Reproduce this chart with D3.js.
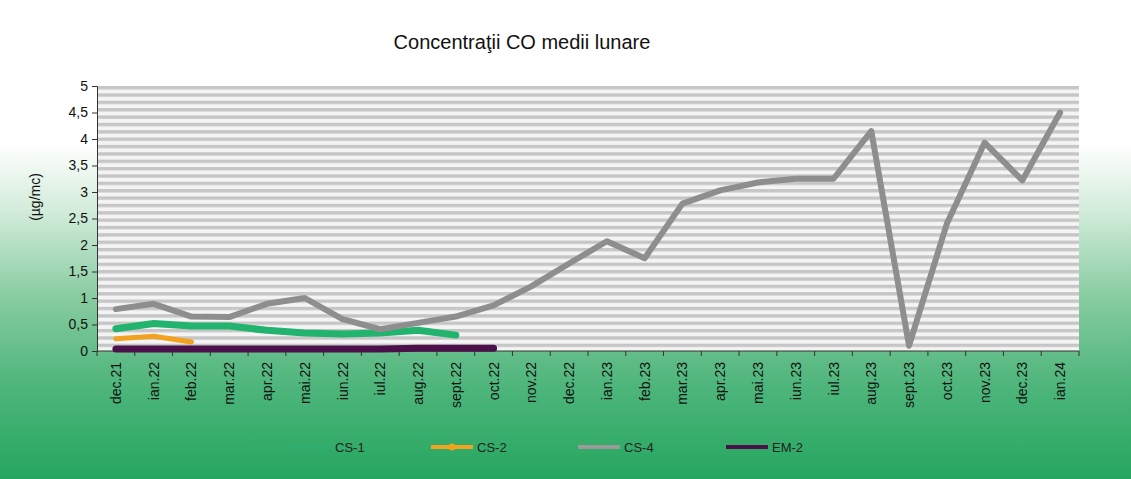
<!DOCTYPE html>
<html>
<head>
<meta charset="utf-8">
<script src="https://cdn.jsdelivr.net/npm/d3@7"></script>
<style>
  html, body { margin: 0; padding: 0; background: #fff; }
  svg { display: block; font-family: Arial, "Liberation Sans", sans-serif; }
</style>
</head>
<body>
<div id="chart"></div>
<script>
const months = ['dec.21', 'ian.22', 'feb.22', 'mar.22', 'apr.22', 'mai.22', 'iun.22', 'iul.22', 'aug.22',
  'sept.22', 'oct.22', 'nov.22', 'dec.22', 'ian.23', 'feb.23', 'mar.23', 'apr.23', 'mai.23', 'iun.23',
  'iul.23', 'aug.23', 'sept.23', 'oct.23', 'nov.23', 'dec.23', 'ian.24'];
const yTicks = [0, 0.5, 1, 1.5, 2, 2.5, 3, 3.5, 4, 4.5, 5];

// series start at dec.21; shorter arrays = station stopped reporting
const cs1 = [0.42, 0.52, 0.47, 0.47, 0.39, 0.34, 0.32, 0.34, 0.39, 0.30];
const cs2 = [0.23, 0.28, 0.17];
const cs4 = [0.79, 0.89, 0.65, 0.64, 0.89, 1.0, 0.60, 0.41, 0.53, 0.65, 0.86, 1.22, 1.65, 2.07, 1.75,
  2.78, 3.03, 3.18, 3.25, 3.25, 4.15, 0.1, 2.4, 3.93, 3.22, 4.5];
const em2 = [0.04, 0.04, 0.04, 0.04, 0.04, 0.04, 0.04, 0.04, 0.05, 0.05, 0.05];

const series = [
  { name: 'CS-1', values: cs1, color: '#22b36e', width: 7 },
  { name: 'CS-4', values: cs4, color: '#8e8e8e', width: 6 },
  { name: 'CS-2', values: cs2, color: '#f2a21e', width: 5 },
  { name: 'EM-2', values: em2, color: '#4b1049', width: 7 },
];

const W = 1131, H = 479;
const m = { top: 86, right: 52, bottom: 128, left: 97 };

const svg = d3.select('#chart').append('svg').attr('width', W).attr('height', H);
const defs = svg.append('defs');

const bg = defs.append('linearGradient').attr('id', 'bg').attr('x1', 0).attr('y1', 0).attr('x2', 0).attr('y2', 1);
[[0, '#ffffff'], [0.3, '#ffffff'], [0.44, '#d2ecda'], [0.62, '#88cca1'], [0.8, '#4fb67c'], [1, '#25a65f']]
  .forEach(([o, c]) => bg.append('stop').attr('offset', o).attr('stop-color', c));

const stripes = defs.append('pattern').attr('id', 'stripes').attr('patternUnits', 'userSpaceOnUse')
  .attr('width', 10).attr('height', 265 / 36).attr('y', m.top);
stripes.append('rect').attr('width', 10).attr('height', 265 / 36).attr('fill', '#f4f4f4');
stripes.append('rect').attr('width', 10).attr('height', 3.4).attr('fill', '#c6c6c6');

svg.append('rect').attr('width', W).attr('height', H).attr('fill', 'url(#bg)');

const x = d3.scaleBand().domain(months).range([m.left, W - m.right]);
const y = d3.scaleLinear().domain([0, 5]).range([H - m.bottom, m.top]);

svg.append('rect')
  .attr('x', m.left).attr('y', m.top)
  .attr('width', W - m.left - m.right).attr('height', H - m.top - m.bottom)
  .attr('fill', 'url(#stripes)');

svg.append('text').attr('x', 522).attr('y', 49).attr('text-anchor', 'middle')
  .attr('font-size', 20).attr('fill', '#111').text('Concentraţii CO medii lunare');

// y axis
const yAxis = svg.append('g').attr('transform', `translate(${m.left},0)`)
  .call(d3.axisLeft(y).tickValues(yTicks).tickSize(5).tickPadding(4)
    .tickFormat(d => String(d).replace('.', ',')));
yAxis.selectAll('text').attr('font-size', 14).attr('fill', '#111').attr('font-family', 'Arial, "Liberation Sans", sans-serif');
yAxis.selectAll('line, path').attr('stroke', '#333');

svg.append('text')
  .attr('transform', `translate(40,197) rotate(-90)`)
  .attr('text-anchor', 'middle').attr('font-size', 14).attr('fill', '#111').text('(µg/mc)');

// x axis: ticks between categories
const xAxis = svg.append('g').attr('transform', `translate(0,${H - m.bottom})`);
xAxis.append('line').attr('x1', m.left).attr('x2', W - m.right).attr('stroke', '#333');
xAxis.selectAll('line.tick').data(months.concat([null])).join('line').attr('class', 'tick')
  .attr('x1', (d, i) => m.left + i * x.bandwidth()).attr('x2', (d, i) => m.left + i * x.bandwidth())
  .attr('y1', 0).attr('y2', 5).attr('stroke', '#333');
xAxis.selectAll('text').data(months).join('text')
  .attr('transform', d => `translate(${x(d) + x.bandwidth() / 2 + 5},11) rotate(-90)`)
  .attr('text-anchor', 'end').attr('font-size', 14).attr('fill', '#111').text(d => d);

const line = d3.line()
  .defined(d => d != null)
  .x((d, i) => x(months[i]) + x.bandwidth() / 2)
  .y(d => y(d));

svg.append('g').selectAll('path').data(series).join('path')
  .attr('d', s => line(s.values))
  .attr('fill', 'none').attr('stroke', s => s.color).attr('stroke-width', s => s.width)
  .attr('stroke-linejoin', 'round').attr('stroke-linecap', 'round');

// legend
const legend = [
  { name: 'CS-1', color: '#2fb070', x: 289, dot: false },
  { name: 'CS-2', color: '#f2a21e', x: 431, dot: true },
  { name: 'CS-4', color: '#9a9a9a', x: 578, dot: false },
  { name: 'EM-2', color: '#4b1049', x: 726, dot: false },
];
const lg = svg.append('g').attr('transform', 'translate(0,447)');
legend.forEach(l => {
  const g = lg.append('g').attr('transform', `translate(${l.x},0)`);
  g.append('line').attr('x1', 0).attr('x2', 42).attr('stroke', l.color).attr('stroke-width', 4);
  if (l.dot) g.append('circle').attr('cx', 21).attr('r', 3.5).attr('fill', l.color);
  g.append('text').attr('x', 46).attr('y', 5).attr('font-size', 13).attr('fill', '#222').text(l.name);
});
</script>
</body>
</html>
